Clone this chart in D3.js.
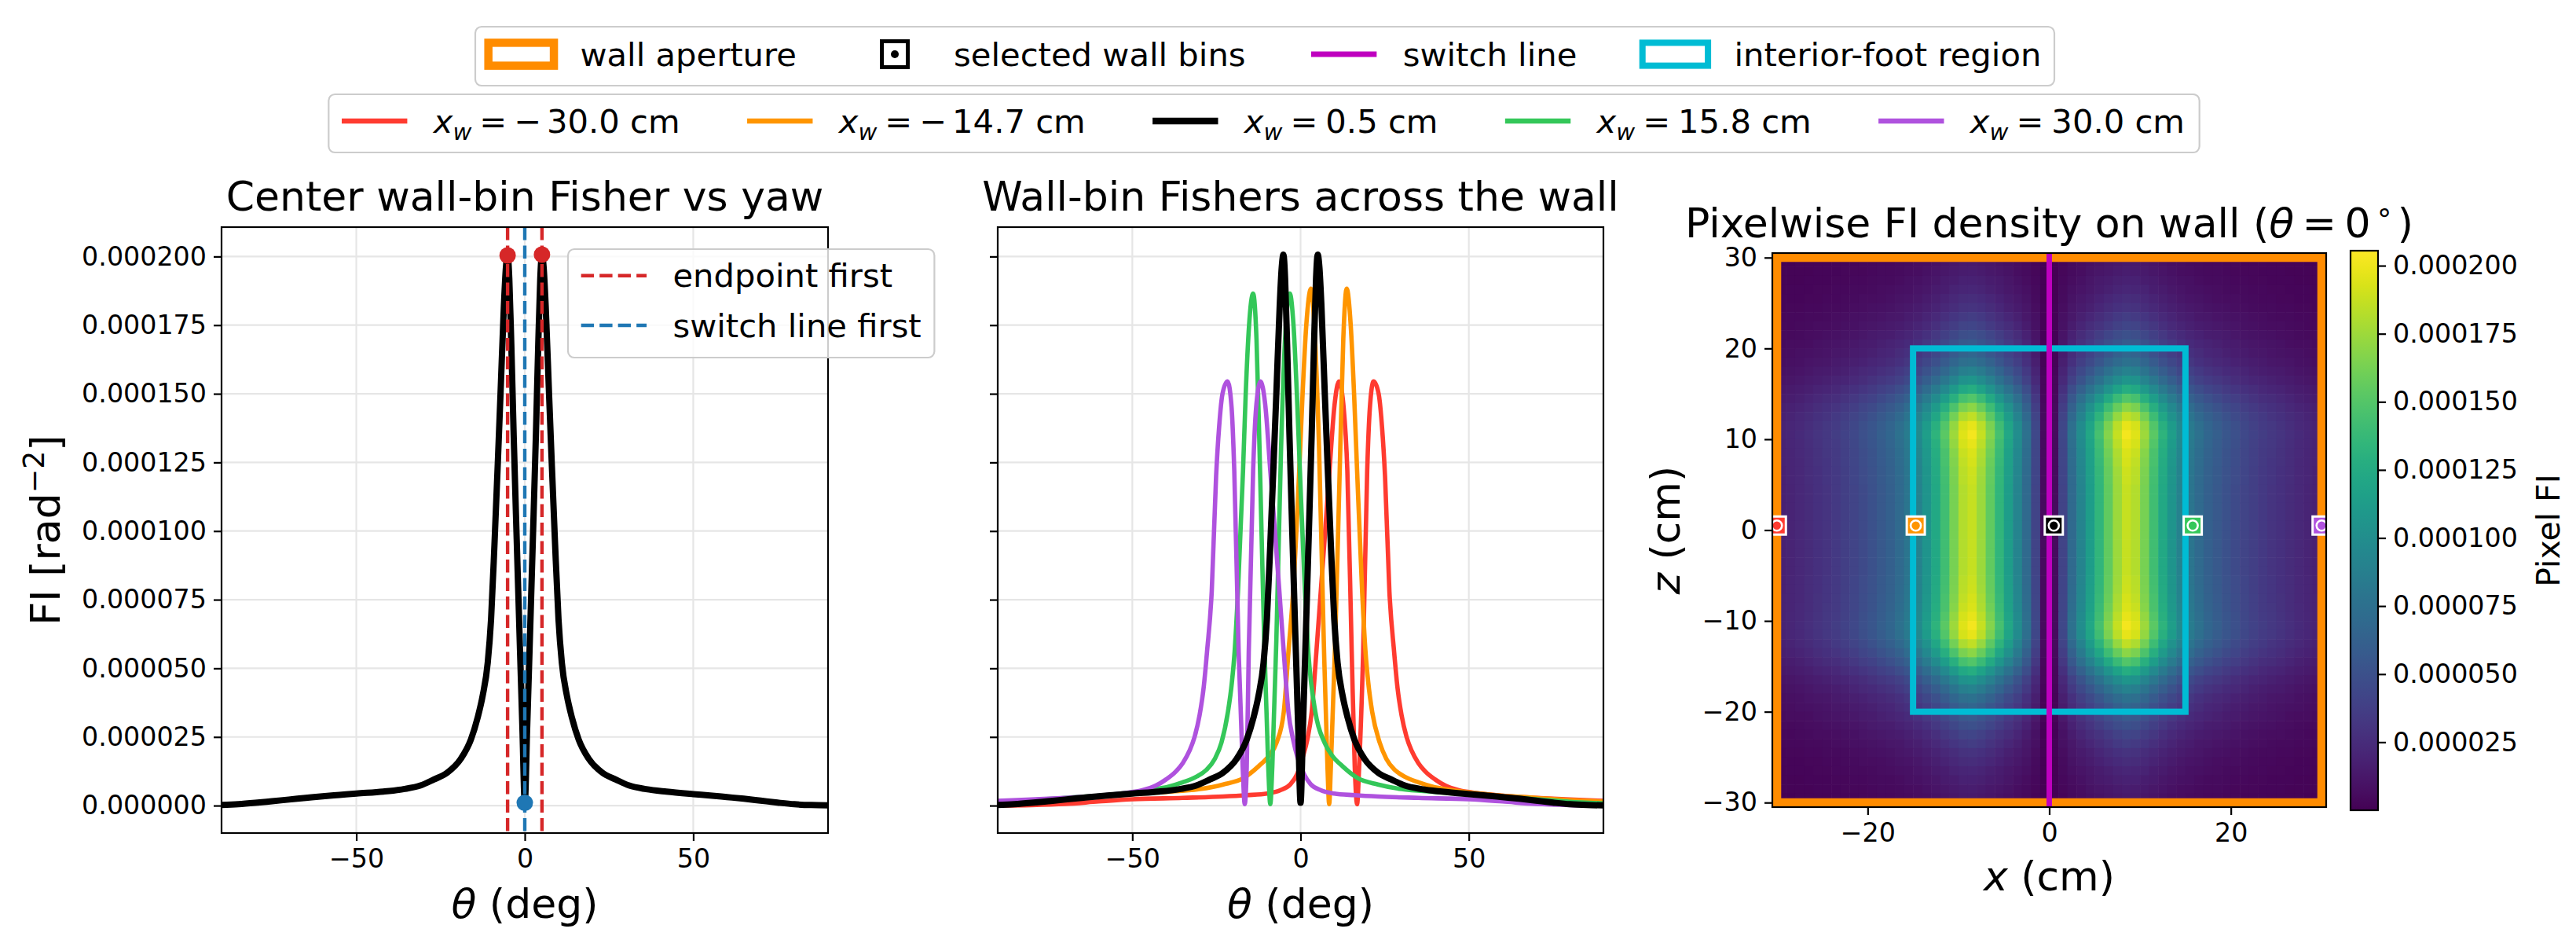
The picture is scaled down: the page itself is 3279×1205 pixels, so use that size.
<!DOCTYPE html>
<html>
<head>
<meta charset="utf-8">
<script src="https://d3js.org/d3.v7.min.js"></script>
<style>
body { margin: 0; background: #ffffff; }
svg text { font-family: "DejaVu Sans", sans-serif; fill: #000; }
</style>
</head>
<body>
<div id="canvas"></div>
<script>
// ---------------- data (Fisher information in units of 1e-6 rad^-2) ----------------
var wallX = [-30.0, -14.7, 0.5, 15.8, 30.0];   // selected wall bins (cm)
var wallZ = 0.5;

var thetaTicks = [-50, 0, 50];
var fiTicks = [0, 25, 50, 75, 100, 125, 150, 175, 200];
var cbTicks = [25, 50, 75, 100, 125, 150, 175, 200];
var cmTicksX = [-20, 0, 20];
var cmTicksZ = [-30, -20, -10, 0, 10, 20, 30];

// x_w = -30.0 cm
var thetaRed = [-90,-80,-70,-60,-50,-35,-23,-16,-10,-6,-3,-1,0.6,2.0,3.3,4.7,6.0,7.2,8.6,10.1,11.4,12.8,13.9,15.2,16.1,16.8,17.4,18.6,19.8,20.6,21.7,23.2,24.2,25.1,26.4,27.8,28.8,30,31.5,33,35,37,40,43,47,52,60,70,80,90];
var fiRed = [0.05,0.2,0.6,1.5,2.3,2.8,3.3,3.8,4.4,5.6,7.8,11.5,17.5,24,34,56,78,98,122,146,154.5,145,122,56,14,0.5,14,56,122,145,154.5,150,138,120,78,56,43,33,25,20,15.5,12.5,9.5,7.3,5.6,4.6,3.6,2.8,2.2,1.7];

// x_w = -14.7 cm
var thetaOrange = [-90,-80,-70,-60,-50,-40,-30,-23,-17,-12.5,-9.5,-7.1,-5.0,-3.6,-2.2,-0.4,0.6,1.7,3.1,4.3,5.5,6.9,8.0,8.5,9.0,10.3,11.8,12.7,13.7,14.9,15.9,16.8,18.3,19.3,20.1,21.3,23.5,25.5,28,31,35,39,44,50,60,70,80,90];
var fiOrange = [0.8,1.4,2.3,3.3,4.2,5,6,7.7,10,14.3,18,23,34,56,78,122,150,175,188.3,170,130,60,14,0.5,14,60,130,170,188.3,175,150,122,78,56,45,34,23,17,13,10.5,8.5,7.0,5.8,4.8,3.6,2.8,2.0,1.5];

// x_w = 0.5 cm (center wall bin)
var thetaBlack = [-90,-85,-80,-75,-70,-65,-60,-55,-50,-42,-36,-31,-27,-23,-19,-16,-14,-12.5,-11,-10,-9,-8,-7.2,-6.2,-5.6,-5.1,-4.6,-4.0,-3.3,-2.4,-1.4,-0.7,0,0.7,1.4,2.4,3.3,4.0,4.6,5.1,5.6,6.2,7.2,8,9,10,11,12.5,14,16,19,23,27,31,36,42,50,55,60,65,70,75,80,85,90];
var fiBlack = [0.2,0.5,1.0,1.6,2.2,2.8,3.4,3.9,4.4,5.1,6.0,7.3,9.5,12,17,24,32,40,52,68,95,125,150,182,196,200.7,192,168,135,97,56,28,1,28,56,97,135,168,192,200.7,196,182,150,125,95,68,52,40,32,24,17,12,9.5,7.3,6.0,5.1,4.2,3.7,3.1,2.5,1.8,1.1,0.5,0.2,0.1];

// x_w = 15.8 cm
var thetaGreen = [-90,-80,-70,-60,-50,-44,-39,-35,-31,-28,-25.5,-23.5,-21.6,-20.4,-19.6,-18.6,-17.1,-16.3,-15.3,-14.1,-13.1,-12.2,-10.8,-9.6,-9.0,-8.4,-7.2,-5.8,-4.6,-3.2,-2.1,-1.1,-0.2,1.3,2.3,4.4,7.1,9.5,12.5,17,23,30,40,50,60,70,80,90];
var fiGreen = [1.5,2.0,2.8,3.6,4.8,5.8,7.0,8.5,10.5,13,17,23,34,45,56,78,122,150,175,186.5,170,130,60,14,0.5,14,60,130,170,186.5,175,150,122,78,56,34,23,18,14.3,10,7.7,6,5,4.2,3.3,2.3,1.4,0.8];

// x_w = 30.0 cm
var thetaPurple = [-90,-80,-70,-60,-52,-47,-43,-40,-37,-35,-33,-31.5,-30,-28.8,-27.8,-26.4,-25.1,-24.2,-23.2,-21.7,-20.5,-19.7,-18.4,-17.2,-16.6,-16.0,-15.4,-14.1,-13.2,-11.9,-10.5,-9.0,-7.5,-6.3,-5.0,-3.6,-2.2,-0.9,1,3,6,10,16,23,35,50,60,70,80,90];
var fiPurple = [1.7,2.2,2.8,3.6,4.6,5.6,7.3,9.5,12.5,15.5,20,25,33,43,56,78,120,138,150,154.5,145,122,56,14,0.5,14,56,122,145,154.5,146,122,98,78,56,34,24,17.5,11.5,7.8,5.6,4.4,3.8,3.3,2.8,2.3,1.5,0.6,0.2,0.05];

// panel 1 markers
var endpointTheta = [-5.1, 5.1];
var endpointFI = [200.4, 200.7];
var switchTheta = [0];
var switchFI = [1.0];

// wall heat map: column profile (x = -29.5 .. 29.5) and row profile (z = 29.5 .. -29.5)
var peakPixelFI = 204;
var colProfile = [0.10,0.11,0.12,0.135,0.15,0.165,0.18,0.20,0.22,0.245,0.27,0.30,0.33,0.37,0.42,0.48,0.56,0.65,0.75,0.86,0.96,0.99,0.92,0.82,0.71,0.60,0.49,0.37,0.22,0.03,
                  0.03,0.22,0.37,0.49,0.60,0.71,0.82,0.92,0.99,0.96,0.86,0.75,0.65,0.56,0.48,0.42,0.37,0.33,0.30,0.27,0.245,0.22,0.20,0.18,0.165,0.15,0.135,0.12,0.11,0.10];
var rowProfile = [0.07,0.08,0.095,0.11,0.13,0.15,0.18,0.21,0.25,0.29,0.33,0.38,0.45,0.53,0.63,0.74,0.84,0.92,0.98,1.0,0.98,0.96,0.95,0.94,0.935,0.93,0.93,0.93,0.93,0.93,
                  0.93,0.93,0.93,0.93,0.93,0.935,0.94,0.95,0.96,0.98,1.0,0.98,0.92,0.84,0.74,0.63,0.53,0.45,0.38,0.33,0.29,0.25,0.21,0.18,0.15,0.13,0.11,0.095,0.08,0.07];
var cbMax = 205.5;

// ---------------- styles ----------------
var seriesColor = ["#ff3b30", "#ff9500", "#000000", "#34c759", "#af52de"];
var seriesWidth = [5.6, 5.6, 8, 5.6, 5.6];
var series = [
  {theta: thetaRed, fi: fiRed},
  {theta: thetaOrange, fi: fiOrange},
  {theta: thetaBlack, fi: fiBlack},
  {theta: thetaGreen, fi: fiGreen},
  {theta: thetaPurple, fi: fiPurple}
];

var W = 3279, H = 1205;
var tickFont = 33.3, labelFont = 52, titleFont = 52, legendFont = 41.7;

var p1 = {l: 282, r: 1054, t: 289, b: 1060};
var p2 = {l: 1270, r: 2041, t: 289, b: 1060};
var p3 = {l: 2256, r: 2961, t: 322, b: 1027};
var cb = {l: 2992, r: 3027, t: 319, b: 1031};

var svg = d3.select("#canvas").append("svg")
    .attr("width", W)
    .attr("height", H);
svg.append("rect").attr("width", W).attr("height", H).attr("fill", "#fff");
var defs = svg.append("defs");

function clip(id, p) {
  defs.append("clipPath").attr("id", id).append("rect")
    .attr("x", p.l).attr("y", p.t).attr("width", p.r - p.l).attr("height", p.b - p.t);
}
clip("c1", p1); clip("c2", p2); clip("c3", p3);

var x1 = d3.scaleLinear().domain([-90, 90]).range([p1.l, p1.r]);
var x2 = d3.scaleLinear().domain([-90, 90]).range([p2.l, p2.r]);
var yFI = d3.scaleLinear().domain([-10, 210.7]).range([p1.b, p1.t]);
var xh = d3.scaleLinear().domain([-30.5, 30.5]).range([p3.l, p3.r]);
var zh = d3.scaleLinear().domain([-30.5, 30.5]).range([p3.b, p3.t]);
var yc = d3.scaleLinear().domain([0, cbMax]).range([cb.b, cb.t]);
var viridis = d3.scaleSequential(d3.interpolateViridis).domain([0, cbMax]);

function styleAxis(sel) {
  sel.select(".domain").remove();
  sel.selectAll(".tick line").attr("stroke", "#000").attr("stroke-width", 2.2);
  sel.selectAll(".tick text").attr("font-size", tickFont)
    .attr("font-family", "DejaVu Sans").attr("fill", "#000");
}
var fiFormat = function(v) { return (v * 1e-6).toFixed(6); };

function grid(xs, ys, p) {
  var g = svg.append("g");
  g.selectAll(".gx").data(thetaTicks).enter().append("line")
    .attr("x1", function(d) { return xs(d); }).attr("x2", function(d) { return xs(d); })
    .attr("y1", p.t).attr("y2", p.b)
    .attr("stroke", "#e6e6e6").attr("stroke-width", 2.2);
  g.selectAll(".gy").data(fiTicks).enter().append("line")
    .attr("x1", p.l).attr("x2", p.r)
    .attr("y1", function(d) { return ys(d); }).attr("y2", function(d) { return ys(d); })
    .attr("stroke", "#e6e6e6").attr("stroke-width", 2.2);
}

function spine(p) {
  svg.append("rect").attr("x", p.l).attr("y", p.t)
    .attr("width", p.r - p.l).attr("height", p.b - p.t)
    .attr("fill", "none").attr("stroke", "#000").attr("stroke-width", 2.2);
}

function lineFor(xs) {
  return d3.line()
    .x(function(d) { return xs(d[0]); })
    .y(function(d) { return yFI(d[1]); })
    .curve(d3.curveMonotoneX);
}

// ---------------- panel 1 ----------------
grid(x1, yFI, p1);
var g1 = svg.append("g").attr("clip-path", "url(#c1)");
g1.append("path")
  .datum(d3.zip(thetaBlack, fiBlack))
  .attr("d", lineFor(x1))
  .attr("fill", "none").attr("stroke", "#000").attr("stroke-width", 8)
  .attr("stroke-linejoin", "round");

g1.selectAll(".endv").data(endpointTheta).enter().append("line")
  .attr("x1", function(d) { return x1(d); }).attr("x2", function(d) { return x1(d); })
  .attr("y1", p1.t).attr("y2", p1.b)
  .attr("stroke", "#d62728").attr("stroke-width", 4.4).attr("stroke-dasharray", "16.4 7.1");
g1.selectAll(".swv").data(switchTheta).enter().append("line")
  .attr("x1", function(d) { return x1(d); }).attr("x2", function(d) { return x1(d); })
  .attr("y1", p1.t).attr("y2", p1.b)
  .attr("stroke", "#1f77b4").attr("stroke-width", 4.4).attr("stroke-dasharray", "16.4 7.1");
g1.selectAll(".endp").data(d3.zip(endpointTheta, endpointFI)).enter().append("circle")
  .attr("cx", function(d) { return x1(d[0]); }).attr("cy", function(d) { return yFI(d[1]); })
  .attr("r", 10.5).attr("fill", "#d62728");
g1.selectAll(".swp").data(d3.zip(switchTheta, switchFI)).enter().append("circle")
  .attr("cx", function(d) { return x1(d[0]); }).attr("cy", function(d) { return yFI(d[1]); })
  .attr("r", 10.5).attr("fill", "#1f77b4");
spine(p1);

svg.append("g").attr("transform", "translate(0," + p1.b + ")")
  .call(d3.axisBottom(x1).tickValues(thetaTicks).tickSize(10).tickPadding(10).tickFormat(d3.format("d")))
  .call(styleAxis);
svg.append("g").attr("transform", "translate(" + p1.l + ",0)")
  .call(d3.axisLeft(yFI).tickValues(fiTicks).tickSize(10).tickPadding(9).tickFormat(fiFormat))
  .call(styleAxis);

// ---------------- panel 2 ----------------
grid(x2, yFI, p2);
var g2 = svg.append("g").attr("clip-path", "url(#c2)");
[0, 1, 3, 4, 2].forEach(function(i) {
  g2.append("path")
    .datum(d3.zip(series[i].theta, series[i].fi))
    .attr("d", lineFor(x2))
    .attr("fill", "none").attr("stroke", seriesColor[i]).attr("stroke-width", seriesWidth[i])
    .attr("stroke-linejoin", "round");
});
spine(p2);
svg.append("g").attr("transform", "translate(0," + p2.b + ")")
  .call(d3.axisBottom(x2).tickValues(thetaTicks).tickSize(10).tickPadding(10).tickFormat(d3.format("d")))
  .call(styleAxis);
svg.append("g").attr("transform", "translate(" + p2.l + ",0)")
  .call(d3.axisLeft(yFI).tickValues(fiTicks).tickSize(10).tickFormat(""))
  .call(styleAxis);

// ---------------- panel 3 ----------------
var cells = [];
rowProfile.forEach(function(rv, j) {
  colProfile.forEach(function(cv, i) {
    cells.push({x0: -30 + i, z1: 30 - j, v: peakPixelFI * cv * rv});
  });
});
var g3 = svg.append("g").attr("clip-path", "url(#c3)");
g3.selectAll(".cell").data(cells).enter().append("rect")
  .attr("x", function(d) { return xh(d.x0); })
  .attr("y", function(d) { return zh(d.z1); })
  .attr("width", xh(1) - xh(0) + 0.6)
  .attr("height", zh(0) - zh(1) + 0.6)
  .attr("fill", function(d) { return viridis(d.v); });

// wall aperture, interior-foot region, switch line
g3.append("rect")
  .attr("x", xh(-30)).attr("y", zh(30))
  .attr("width", xh(30) - xh(-30)).attr("height", zh(-30) - zh(30))
  .attr("fill", "none").attr("stroke", "#ff8c00").attr("stroke-width", 11);
g3.append("rect")
  .attr("x", xh(-15)).attr("y", zh(20))
  .attr("width", xh(15) - xh(-15)).attr("height", zh(-20) - zh(20))
  .attr("fill", "none").attr("stroke", "#00bcd4").attr("stroke-width", 8);
g3.append("line")
  .attr("x1", xh(0)).attr("x2", xh(0)).attr("y1", p3.t).attr("y2", p3.b)
  .attr("stroke", "#bf00bf").attr("stroke-width", 7);

var bins = g3.selectAll(".bin").data(wallX).enter().append("g")
  .attr("transform", function(d) { return "translate(" + xh(d) + "," + zh(wallZ) + ")"; });
bins.append("rect").attr("x", -11.5).attr("y", -11.5).attr("width", 23).attr("height", 23)
  .attr("fill", function(d, i) { return seriesColor[i]; })
  .attr("stroke", "#fff").attr("stroke-width", 3);
bins.append("circle").attr("r", 6.5).attr("fill", "none")
  .attr("stroke", "#fff").attr("stroke-width", 2.6);
spine(p3);

svg.append("g").attr("transform", "translate(0," + p3.b + ")")
  .call(d3.axisBottom(xh).tickValues(cmTicksX).tickSize(10).tickPadding(10).tickFormat(d3.format("d")))
  .call(styleAxis);
svg.append("g").attr("transform", "translate(" + p3.l + ",0)")
  .call(d3.axisLeft(zh).tickValues(cmTicksZ).tickSize(10).tickPadding(9).tickFormat(d3.format("d")))
  .call(styleAxis);

// colorbar
var grad = defs.append("linearGradient").attr("id", "vir")
  .attr("x1", 0).attr("y1", 1).attr("x2", 0).attr("y2", 0);
d3.range(0, 33).forEach(function(k) {
  grad.append("stop").attr("offset", k / 32).attr("stop-color", d3.interpolateViridis(k / 32));
});
svg.append("rect").attr("x", cb.l).attr("y", cb.t)
  .attr("width", cb.r - cb.l).attr("height", cb.b - cb.t)
  .attr("fill", "url(#vir)").attr("stroke", "#000").attr("stroke-width", 2.2);
svg.append("g").attr("transform", "translate(" + cb.r + ",0)")
  .call(d3.axisRight(yc).tickValues(cbTicks).tickSize(10).tickPadding(9).tickFormat(fiFormat))
  .call(styleAxis);
svg.append("text")
  .attr("transform", "translate(3258," + ((cb.t + cb.b) / 2) + ") rotate(-90)")
  .attr("text-anchor", "middle").attr("font-size", 41).text("Pixel FI");

// ---------------- titles & labels ----------------
function label(x, y, size) {
  return svg.append("text").attr("x", x).attr("y", y)
    .attr("font-size", size).attr("text-anchor", "middle");
}
label((p1.l + p1.r) / 2, 268, titleFont).text("Center wall-bin Fisher vs yaw");
label((p2.l + p2.r) / 2, 268, titleFont).text("Wall-bin Fishers across the wall");
var t3 = label((p3.l + p3.r) / 2, 302, titleFont);
t3.append("tspan").text("Pixelwise FI density on wall (");
t3.append("tspan").attr("font-style", "italic").text("\u03b8");
t3.append("tspan").attr("dx", 0.2 * titleFont).text("=");
t3.append("tspan").attr("dx", 0.2 * titleFont).text("0");
t3.append("tspan").attr("dx", 0.12 * titleFont).attr("dy", -0.38 * titleFont)
  .attr("font-size", 0.7 * titleFont).text("\u2218");
t3.append("tspan").attr("dx", 0.1 * titleFont).attr("dy", 0.38 * titleFont).text(")");

[p1, p2].forEach(function(p) {
  var t = label((p.l + p.r) / 2, 1168, labelFont);
  t.append("tspan").attr("font-style", "italic").text("\u03b8");
  t.append("tspan").text(" (deg)");
});
var tx = label((p3.l + p3.r) / 2, 1133, labelFont);
tx.append("tspan").attr("font-style", "italic").text("x");
tx.append("tspan").text(" (cm)");

var ty1 = svg.append("text")
  .attr("transform", "translate(76," + ((p1.t + p1.b) / 2) + ") rotate(-90)")
  .attr("text-anchor", "middle").attr("font-size", labelFont);
ty1.append("tspan").text("FI [rad");
ty1.append("tspan").attr("font-size", 0.7 * labelFont).attr("dy", -0.38 * labelFont).text("\u22122");
ty1.append("tspan").attr("dy", 0.38 * labelFont).text("]");

var tz = svg.append("text")
  .attr("transform", "translate(2138," + ((p3.t + p3.b) / 2) + ") rotate(-90)")
  .attr("text-anchor", "middle").attr("font-size", labelFont);
tz.append("tspan").attr("font-style", "italic").text("z");
tz.append("tspan").text(" (cm)");

// ---------------- legends ----------------
var hl = 2 * legendFont, htp = 0.8 * legendFont, lpad = 0.4 * legendFont, lcs = 2 * legendFont;

function drawHandle(g, it, x0, cy) {
  if (it.kind === "patch") {
    g.append("rect").attr("x", x0).attr("y", cy - 0.35 * legendFont)
      .attr("width", hl).attr("height", 0.7 * legendFont)
      .attr("fill", "none").attr("stroke", it.color).attr("stroke-width", it.width);
  } else if (it.kind === "line") {
    g.append("line").attr("x1", x0).attr("x2", x0 + hl).attr("y1", cy).attr("y2", cy)
      .attr("stroke", it.color).attr("stroke-width", it.width)
      .attr("stroke-dasharray", it.dash || null);
  } else {
    g.append("rect").attr("x", x0 + hl / 2 - 16.5).attr("y", cy - 16.5)
      .attr("width", 33).attr("height", 33)
      .attr("fill", "#fff").attr("stroke", "#000").attr("stroke-width", 5);
    g.append("circle").attr("cx", x0 + hl / 2).attr("cy", cy).attr("r", 5).attr("fill", "#000");
  }
}

function legendBox(g, x, y, w, h) {
  g.insert("rect", ":first-child").attr("x", x).attr("y", y).attr("width", w).attr("height", h)
    .attr("rx", 8).attr("fill", "#fff").attr("fill-opacity", 0.8)
    .attr("stroke", "#cccccc").attr("stroke-width", 2.2);
}

function legendRow(items, cx, cy, boxTop, boxBottom) {
  var g = svg.append("g");
  var inner = g.append("g");
  var x = 0;
  items.forEach(function(it, i) {
    if (i > 0) x += lcs;
    drawHandle(inner, it, x, cy);
    var t = inner.append("text").attr("x", x + hl + htp).attr("y", cy + 0.348 * legendFont)
      .attr("font-size", legendFont);
    it.label(t);
    x += hl + htp + t.node().getBBox().width;
  });
  var total = x + 2 * lpad;
  var left = cx - total / 2;
  inner.attr("transform", "translate(" + (left + lpad) + ",0)");
  legendBox(g, left, boxTop, total, boxBottom - boxTop);
}

function plain(s) { return function(t) { t.text(s); }; }
function xwLabel(v) {
  return function(t) {
    t.append("tspan").attr("font-style", "italic").text("x");
    t.append("tspan").attr("font-style", "italic").attr("font-size", 0.7 * legendFont)
      .attr("dy", 0.22 * legendFont).text("w");
    t.append("tspan").attr("dy", -0.22 * legendFont).attr("dx", 0.24 * legendFont).text("=");
    if (v < 0) {
      t.append("tspan").attr("dx", 0.22 * legendFont).text("\u2212");
      t.append("tspan").attr("dx", 0.16 * legendFont).text(d3.format(".1f")(-v));
    } else {
      t.append("tspan").attr("dx", 0.24 * legendFont).text(d3.format(".1f")(v));
    }
    t.append("tspan").text(" cm");
  };
}

legendRow([
  {kind: "patch", color: "#ff8c00", width: 10.5, label: plain("wall aperture")},
  {kind: "bin", label: plain("selected wall bins")},
  {kind: "line", color: "#bf00bf", width: 7, label: plain("switch line")},
  {kind: "patch", color: "#00bcd4", width: 8, label: plain("interior-foot region")}
], 1610, 69, 34, 109);

legendRow(wallX.map(function(v, i) {
  return {kind: "line", color: seriesColor[i], width: i === 2 ? 8.3 : 6.7, label: xwLabel(v)};
}), 1609, 154, 120, 194);

// panel 1 legend
(function() {
  var g = svg.append("g");
  var left = 723, rows = [350.7, 414];
  var items = [
    {kind: "line", color: "#d62728", width: 4.4, dash: "16.4 7.1", label: plain("endpoint first")},
    {kind: "line", color: "#1f77b4", width: 4.4, dash: "16.4 7.1", label: plain("switch line first")}
  ];
  var maxW = 0;
  items.forEach(function(it, i) {
    drawHandle(g, it, left + lpad, rows[i]);
    var t = g.append("text").attr("x", left + lpad + hl + htp).attr("y", rows[i] + 0.348 * legendFont)
      .attr("font-size", legendFont);
    it.label(t);
    maxW = Math.max(maxW, t.node().getBBox().width);
  });
  legendBox(g, left, 317, 2 * lpad + hl + htp + maxW, 138);
})();
</script>
</body>
</html>
